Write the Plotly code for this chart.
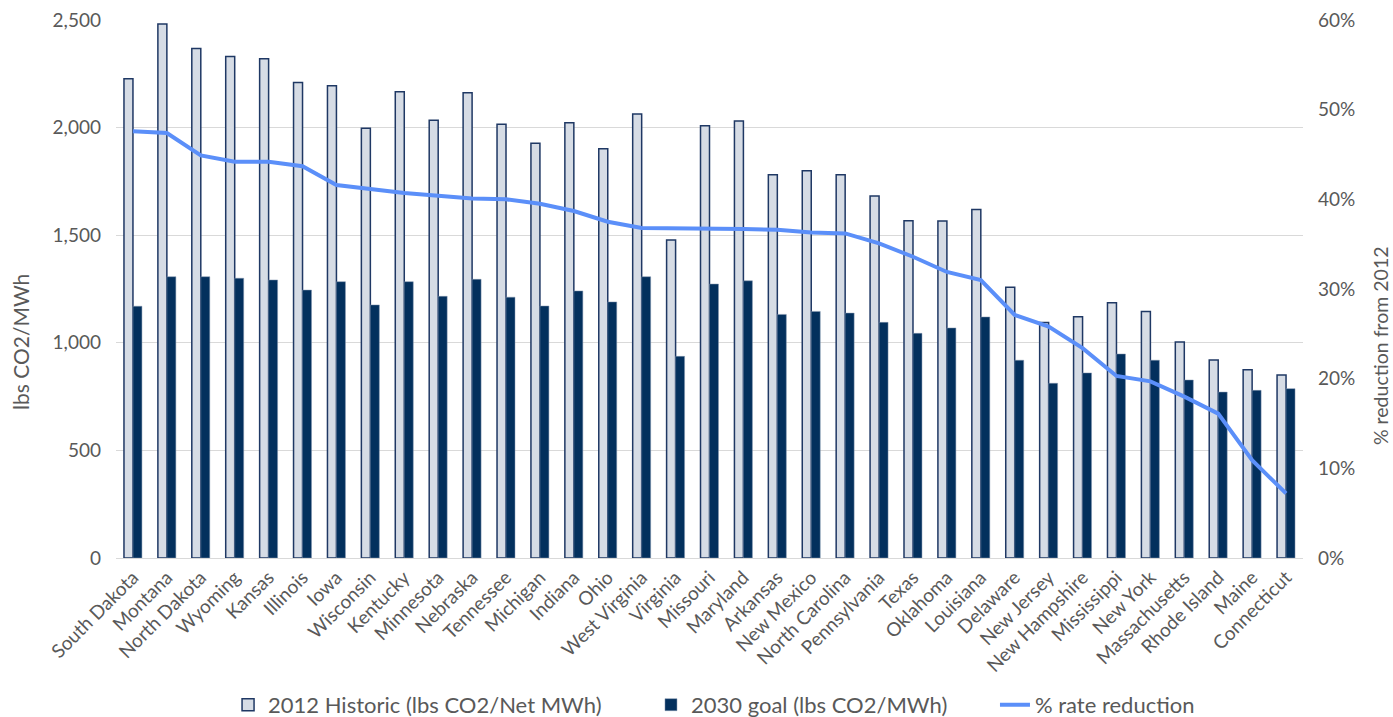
import plotly.graph_objects as go

states = [
    "South Dakota", "Montana", "North Dakota", "Wyoming", "Kansas", "Illinois",
    "Iowa", "Wisconsin", "Kentucky", "Minnesota", "Nebraska", "Tennessee",
    "Michigan", "Indiana", "Ohio", "West Virginia", "Virginia", "Missouri",
    "Maryland", "Arkansas", "New Mexico", "North Carolina", "Pennsylvania",
    "Texas", "Oklahoma", "Louisiana", "Delaware", "New Jersey", "New Hampshire",
    "Mississippi", "New York", "Massachusetts", "Rhode Island", "Maine",
    "Connecticut",
]

historic_2012 = [
    2227, 2481, 2367, 2330, 2320, 2210, 2195, 1997, 2167, 2034, 2162, 2015,
    1927, 2023, 1902, 2063, 1478, 2009, 2031, 1781, 1800, 1781, 1682, 1567,
    1566, 1619, 1258, 1094, 1121, 1186, 1145, 1004, 920, 875, 850,
]

goal_2030 = [
    1170, 1307, 1307, 1300, 1292, 1245, 1284, 1176, 1284, 1216, 1295, 1212,
    1171, 1241, 1190, 1307, 937, 1273, 1288, 1132, 1146, 1138, 1095, 1044,
    1069, 1120, 919, 812, 860, 948, 919, 827, 771, 779, 787,
]

rate_reduction = [
    0.476, 0.474, 0.449, 0.442, 0.442, 0.437, 0.416, 0.411, 0.407, 0.404,
    0.401, 0.400, 0.395, 0.387, 0.375, 0.368, 0.368, 0.367, 0.367, 0.366,
    0.363, 0.362, 0.351, 0.336, 0.319, 0.310, 0.271, 0.258, 0.234, 0.203,
    0.197, 0.180, 0.161, 0.109, 0.072,
]

FONT = "Lato"
GRAY = "#595959"
LEGEND_Y = -0.273

fig = go.Figure()

fig.add_trace(go.Bar(
    x=states, y=historic_2012,
    name="2012 Historic (lbs CO2/Net MWh)",
    marker=dict(color="#D6DCE5", line=dict(color="#1F3864", width=1.5)),
    legend="legend",
))

fig.add_trace(go.Bar(
    x=states, y=goal_2030,
    name="2030 goal (lbs CO2/MWh)",
    marker=dict(color="#03305D", line=dict(color="#8497B0", width=0.5)),
    legend="legend2",
))

fig.add_trace(go.Scatter(
    x=states, y=rate_reduction,
    name="% rate reduction",
    mode="lines",
    line=dict(color="#5B8FF9", width=4),
    yaxis="y2",
    legend="legend3",
))


def legend_at(x):
    return dict(
        orientation="h",
        x=x, xanchor="left",
        y=LEGEND_Y, yanchor="middle",
        font=dict(family=FONT, size=22, color=GRAY),
        bgcolor="rgba(0,0,0,0)",
    )


fig.update_layout(
    width=1393, height=717,
    margin=dict(l=116, r=90, t=20, b=159, autoexpand=False),
    paper_bgcolor="white",
    plot_bgcolor="white",
    font=dict(family=FONT, color=GRAY, size=19),
    barmode="group",
    bargap=0.47,
    bargroupgap=0.0,
    showlegend=True,
    legend=legend_at(0.0944),
    legend2=legend_at(0.4507),
    legend3=legend_at(0.7405),
    xaxis=dict(
        tickangle=-45,
        tickfont=dict(family=FONT, size=19, color=GRAY),
        showgrid=False,
        showline=True,
        linecolor="#D9D9D9",
        linewidth=1,
        ticks="",
        automargin=False,
    ),
    yaxis=dict(
        range=[0, 2500],
        dtick=500,
        tickformat=",",
        showgrid=True,
        gridcolor="#D9D9D9",
        gridwidth=1,
        zeroline=False,
        showline=False,
        tickfont=dict(family=FONT, size=19, color=GRAY),
        ticklabelstandoff=14,
        automargin=False,
    ),
    yaxis2=dict(
        range=[0, 0.6],
        dtick=0.1,
        tickformat=".0%",
        overlaying="y",
        side="right",
        showgrid=False,
        zeroline=False,
        tickfont=dict(family=FONT, size=19, color=GRAY),
        ticklabelstandoff=14,
        automargin=False,
    ),
    annotations=[
        dict(
            text="lbs CO2/MWh", textangle=-90,
            xref="paper", yref="paper",
            x=(20 - 116) / 1187, y=(558 - 342) / 538,
            xanchor="center", yanchor="middle", showarrow=False,
            font=dict(family=FONT, size=21, color=GRAY),
        ),
        dict(
            text="% reduction from 2012", textangle=-90,
            xref="paper", yref="paper",
            x=(1380 - 116) / 1187, y=(558 - 346) / 538,
            xanchor="center", yanchor="middle", showarrow=False,
            font=dict(family=FONT, size=19.5, color=GRAY),
        ),
    ],
)

fig.write_html("out.html")
